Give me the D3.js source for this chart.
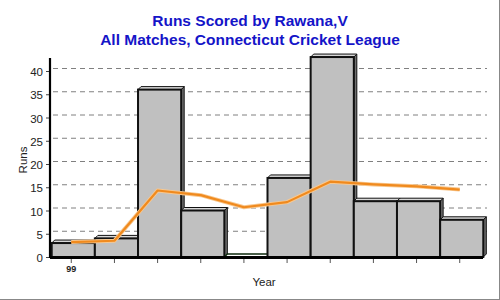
<!DOCTYPE html>
<html><head><meta charset="utf-8">
<script src="https://cdn.jsdelivr.net/npm/d3@7"></script>
<style>body{margin:0;background:#fff}svg{display:block;font-family:Arial,"Liberation Sans",sans-serif}</style>
</head><body><svg id="c" width="500" height="300"></svg>
<script>
const years = ["99","","","","","","","","",""];
const runs = [3, 4, 36, 10, 0, 17, 43, 12, 12, 8];
const average = [3.2, 3.5, 14.3, 13.3, 10.7, 11.8, 16.2, 15.6, 15.2, 14.5];
const yTicks = [0,5,10,15,20,25,30,35,40];
const titleLines = ["Runs Scored by Rawana,V", "All Matches, Connecticut Cricket League"];

const svg = d3.select("#c");
const D = 3; // depth offset
const idx = d3.range(runs.length);
const x = d3.scaleBand().domain(idx).range([51.7, 483.3]).paddingInner(0).paddingOuter(0);
const y = d3.scaleLinear().domain([0, 40]).range([257, 71]);

// border
svg.append("line").attr("x1",499.5).attr("x2",499.5).attr("y1",0).attr("y2",300).attr("stroke","#888").attr("stroke-width",1);
svg.append("line").attr("x1",0).attr("x2",500).attr("y1",299.5).attr("y2",299.5).attr("stroke","#888").attr("stroke-width",1);

// title
svg.append("g").selectAll("text").data(titleLines).join("text")
  .attr("x",250).attr("y",(d,i)=>26+i*19).attr("text-anchor","middle")
  .attr("font-size","15.5px").attr("font-weight","bold").attr("fill","#1414c8").text(d=>d);

// gridlines (back plane)
svg.append("g").selectAll("line").data(yTicks.filter(t=>t>0)).join("line")
  .attr("x1",53).attr("x2",487).attr("y1",d=>y(d)-D+0.5).attr("y2",d=>y(d)-D+0.5)
  .attr("stroke","#808080").attr("stroke-dasharray","5,4").attr("stroke-width",1);

// y axis
const yAxis = d3.axisLeft(y).tickValues(yTicks).tickSize(4).tickPadding(3).tickFormat(d3.format("d"));
const gy = svg.append("g").attr("transform","translate(50,0)").call(yAxis);
gy.select(".domain").remove();
gy.selectAll("text").attr("font-size","11.5px").attr("fill","#222").attr("font-family","Arial,'Liberation Sans',sans-serif").attr("dy","0.4em");
gy.selectAll("line").attr("stroke","#444");
svg.append("line").attr("x1",50).attr("x2",50).attr("y1",58).attr("y2",258).attr("stroke","#000").attr("stroke-width",2.2);

// bars
const bars = svg.append("g").selectAll("g").data(idx).join("g");
bars.each(function(i){
  const g = d3.select(this);
  const x0 = x(i), x1 = x(i)+x.bandwidth(), yt = y(runs[i]), y0 = y(0);
  if (runs[i] > 0) {
    g.append("polygon").attr("points",[[x1,yt],[x1+D,yt-D],[x1+D,y0-D],[x1,y0]].join(" "))
      .attr("fill","#707070").attr("stroke","#111").attr("stroke-width",1);
    g.append("polygon").attr("points",[[x0,yt],[x0+D,yt-D],[x1+D,yt-D],[x1,yt]].join(" "))
      .attr("fill","#d8d8d8").attr("stroke","#111").attr("stroke-width",1);
    g.append("rect").attr("x",x0).attr("y",yt).attr("width",x1-x0).attr("height",y0-yt)
      .attr("fill","#c0c0c0").attr("stroke","#111").attr("stroke-width",2);
  } else {
    g.append("polygon").attr("points",[[x0,yt],[x0+D,yt-D],[x1+D,yt-D],[x1,yt]].join(" "))
      .attr("fill","#fff").attr("stroke","#0c2a0c").attr("stroke-width",1.5);
  }
});

// x axis
svg.append("line").attr("x1",50).attr("x2",483).attr("y1",257.5).attr("y2",257.5).attr("stroke","#000").attr("stroke-width",3);
const tickX = i => x(i) + x.bandwidth()/2 - 2;
svg.append("g").selectAll("line").data(idx).join("line")
  .attr("x1",tickX).attr("x2",tickX).attr("y1",259).attr("y2",263).attr("stroke","#555");
svg.append("g").selectAll("text").data(idx).join("text")
  .attr("x",tickX).attr("y",272).attr("text-anchor","middle")
  .attr("font-size","9px").attr("font-weight","bold").attr("fill","#222").text(i=>years[i]);

// average line
const line = d3.line().x(i=>tickX(i)).y(i=>y(average[i]));
svg.append("path").datum(idx).attr("d",line).attr("fill","none").attr("stroke","#f8c890").attr("stroke-width",4).attr("stroke-linejoin","round");
svg.append("path").datum(idx).attr("d",line).attr("fill","none").attr("stroke","#f08a1e").attr("stroke-width",2.2).attr("stroke-linejoin","round");

// axis titles
svg.append("text").attr("x",264).attr("y",286).attr("text-anchor","middle").attr("font-size","11.5px").attr("fill","#222").text("Year");
svg.append("text").attr("transform","translate(27,160) rotate(-90)").attr("text-anchor","middle").attr("font-size","11.5px").attr("fill","#222").text("Runs");
</script></body></html>
